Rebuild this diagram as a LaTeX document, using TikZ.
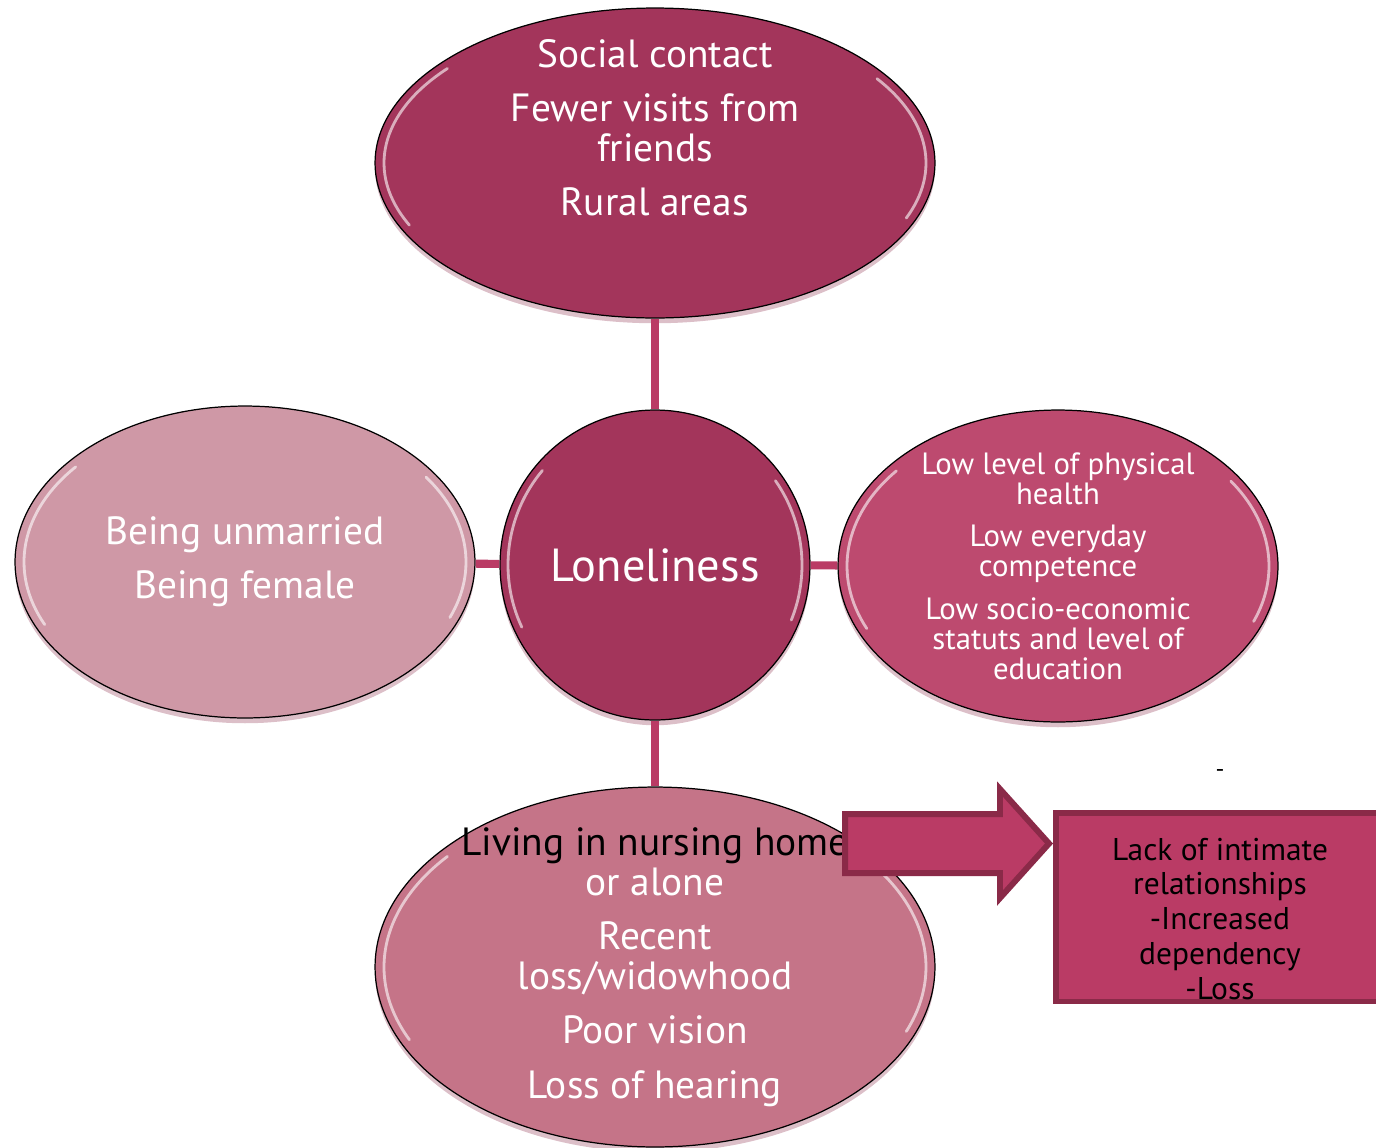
\documentclass[tikz,border=0pt]{standalone}
\usepackage{fontspec}
\setmainfont{PT Sans}
\usepackage{tikz}
\usetikzlibrary{shapes.geometric,shapes.arrows,shadows,calc}

\definecolor{plum}{RGB}{163,53,91}
\definecolor{blush}{RGB}{207,152,166}
\definecolor{rose}{RGB}{189,74,111}
\definecolor{mauve}{RGB}{197,116,136}
\definecolor{berry}{RGB}{186,59,101}
\definecolor{berrydark}{RGB}{138,42,72}

\tikzset{
  blob/.style={ellipse, draw=black, line width=0.7pt, inner sep=0pt,
    drop shadow={shadow xshift=0pt, shadow yshift=-3pt, opacity=0.3, fill=berrydark}},
  txt/.style={text=white, align=center, inner sep=0pt,
    font=\fontsize{22.4}{22.8}\selectfont},
  small/.style={txt, font=\fontsize{17.5}{17.1}\selectfont},
  link/.style={draw=berry, line width=4.6pt},
  gloss/.style={draw=white, line width=1.6pt, opacity=0.6, line cap=round},
}

% white rim highlight on the left and right of an ellipse
\newcommand{\gloss}[3]{%
  \draw[gloss] ($(#1.center)+(220:#2 and #3)$)
    arc[start angle=220, end angle=155, x radius=#2, y radius=#3];
  \draw[gloss] ($(#1.center)+(-35:#2 and #3)$)
    arc[start angle=-35, end angle=22, x radius=#2, y radius=#3];
}

\begin{document}
\begin{tikzpicture}[x=0.02cm, y=-0.02cm]
  \useasboundingbox (0,0) rectangle (1376,1147);

  \node (top) [blob, fill=plum, minimum width=11.2cm, minimum height=6.2cm,
    label={[txt, yshift=20pt]center:{Social contact\\[8pt]Fewer visits from\\friends\\[8pt]Rural areas}}]
    at (655,163) {};
  \node (mid) [blob, circle, fill=plum, minimum size=6.2cm,
    label={[txt, font=\fontsize{26.4}{30}\selectfont]center:Loneliness}]
    at (655,565) {};
  \node (left) [blob, fill=blush, minimum width=9.2cm, minimum height=6.24cm,
    label={[txt]center:{Being unmarried\\[8pt]Being female}}]
    at (245,562) {};
  \node (right) [blob, fill=rose, minimum width=8.8cm, minimum height=6.24cm,
    label={[small]center:{Low level of physical\\health\\[7pt]Low everyday\\competence\\[7pt]Low socio-economic\\statuts and level of\\education}}]
    at (1058,566) {};
  \node (bot) [blob, fill=mauve, minimum width=11.2cm, minimum height=7.2cm,
    label={[txt]center:{\textcolor{black}{Living in nursing home}\\or alone\\[8pt]Recent\\loss/widowhood\\[8pt]Poor vision\\[8pt]Loss of hearing}}]
    at (655,967) {};

  \gloss{top}{271}{147}
  \gloss{mid}{147}{147}
  \gloss{left}{221}{148}
  \gloss{right}{211}{148}
  \gloss{bot}{271}{172}

  \draw[link] (top) -- (mid);
  \draw[link] (mid) -- (bot);
  \draw[link] (left) -- (mid);
  \draw[link] (mid) -- (right);

  \node (box) [draw=berrydark, fill=berry, line width=3.4pt,
    minimum width=6.56cm, minimum height=3.78cm] at (1220,907) {};
  \node (boxtxt) [align=center, inner sep=0pt, font=\fontsize{17.9}{19.9}\selectfont]
    at ($(box.center)+(0,12)$) {Lack of intimate\\relationships\\-Increased\\dependency\\-Loss};
  \node (arr) [single arrow, draw=berrydark, fill=berry, line width=3.4pt,
    minimum height=4.08cm, inner xsep=0pt, inner ysep=0.53cm,
    single arrow head extend=0.5cm, single arrow tip angle=96, anchor=tip]
    at ($(box.north west)+(0,34)$) {};
  \node (dash) [inner sep=0pt, font=\fontsize{14}{16}\selectfont] at (1220,773) {-};
\end{tikzpicture}
\end{document}
